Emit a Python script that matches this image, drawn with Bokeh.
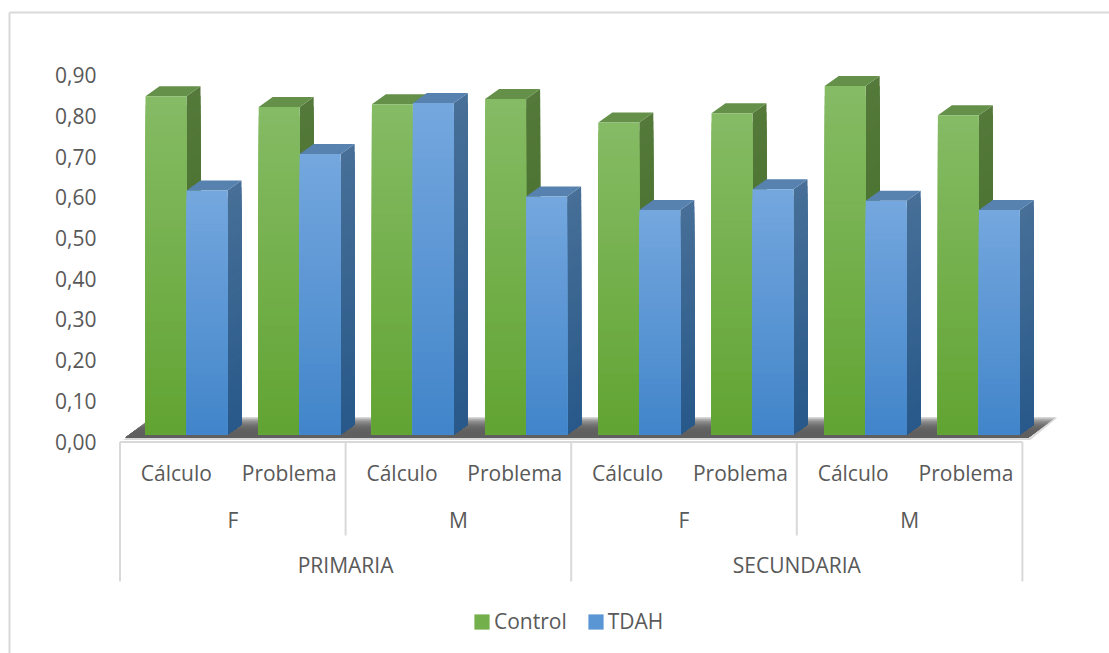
from bokeh.embed import file_html
from bokeh.resources import INLINE
from bokeh.plotting import figure
from bokeh.models import (ColumnDataSource, FixedTicker, Legend, LegendItem,
                          LinearAxis, Range1d, CustomJSTickFormatter)
from bokeh.core.properties import value

# ---- data ----
stages = ["PRIMARIA", "SECUNDARIA"]
genders = ["F", "M", "F", "M"]
tasks = ["Cálculo", "Problema"] * 4
control = [0.832, 0.805, 0.812, 0.825, 0.767, 0.79, 0.857, 0.785]
tdah = [0.60, 0.69, 0.815, 0.585, 0.552, 0.603, 0.575, 0.552]
y_ticks = [0.0, 0.1, 0.2, 0.3, 0.4, 0.5, 0.6, 0.7, 0.8, 0.9]

# ---- canvas and scales ----
W, H = 1109, 653
CAT_PX = 112.8          # pixels per category
VAL_PX = 406.7          # pixels per unit of value
LEFT_PX = 119.5         # canvas x of the first category's left edge
BASE_PX = 434           # canvas y of the bars' front base
AXIS_BASE_PX = 441      # canvas y of the 0,00 tick label

TEXT = "#595959"
RULE = "#D9D9D9"
FONT = value("Open Sans")
LABEL_SIZE = "21px"


def xpx(px):
    return (px - LEFT_PX) / CAT_PX


def ypx(px):
    return (BASE_PX - px) / VAL_PX


p = figure(width=W, height=H, output_backend="svg", toolbar_location=None,
           x_range=Range1d(xpx(0), xpx(W)), y_range=Range1d(ypx(H), ypx(0)),
           min_border=0, x_axis_type=None, y_axis_type=None,
           background_fill_color="white", border_fill_color="white")
p.grid.visible = False
p.outline_line_color = None

# value axis sits slightly below the bars' plane, as in a 3D projection
p.extra_y_ranges["value_axis"] = Range1d((AXIS_BASE_PX - H) / VAL_PX, AXIS_BASE_PX / VAL_PX)
axis = LinearAxis(y_range_name="value_axis", ticker=FixedTicker(ticks=y_ticks),
                  fixed_location=xpx(105),
                  axis_line_color=None, major_tick_line_color=None, minor_tick_line_color=None,
                  major_label_text_font="Open Sans", major_label_text_font_size=LABEL_SIZE,
                  major_label_text_color=TEXT, major_label_standoff=3,
                  formatter=CustomJSTickFormatter(code="return tick.toFixed(2).replace('.', ',')"))
p.add_layout(axis, "left")

# chart frame: only its top and left edges fall inside the page
p.multi_line([[xpx(9), xpx(9)], [xpx(9), xpx(W)]],
             [[ypx(H), ypx(12)], [ypx(12), ypx(12)]],
             line_color=RULE, line_width=2)


def mix(a, b, t):
    ca = [int(a[i:i + 2], 16) for i in (1, 3, 5)]
    cb = [int(b[i:i + 2], 16) for i in (1, 3, 5)]
    return "#%02x%02x%02x" % tuple(round(x + (y - x) * t) for x, y in zip(ca, cb))


# ---- floor ----
FLOOR_STEPS = 12
fx0, fx1 = xpx(125), xpx(1028)
fdx, fdy = 27 / CAT_PX, 20 / VAL_PX
fy0 = ypx(437)
p.patches(
    [[fx0 - 2 / CAT_PX, fx1 + 2 / CAT_PX, fx1 + 2 / CAT_PX + fdx, fx0 - 2 / CAT_PX + fdx]],
    [[ypx(439.5), ypx(439.5), fy0 + fdy, fy0 + fdy]],
    fill_color="#DADADA", line_color=None)
floor_x, floor_y, floor_c = [], [], []
for k in range(FLOOR_STEPS):
    t = 1 - k / FLOOR_STEPS
    floor_x.append([fx0, fx1, fx1 + fdx * t, fx0 + fdx * t])
    floor_y.append([fy0, fy0, fy0 + fdy * t, fy0 + fdy * t])
    floor_c.append(mix("#5F5F5F", "#C4C4C4", (t ** 4)))
p.patches(floor_x, floor_y, fill_color=floor_c, line_color=None)

# ---- 3D bars ----
BAR = 41 / CAT_PX
DX, DY = 14 / CAT_PX, 10 / VAL_PX
START = xpx(145)
STEP = 113.2 / CAT_PX
STRIPS = 36

series = [
    dict(values=control, offset=0.0, front=("#85BB64", "#62A433"), side=("#54793A", "#3F6B24"), top="#64904A"),
    dict(values=tdah, offset=BAR, front=("#74A7DE", "#4285CA"), side=("#476F97", "#28598A"), top="#5781AE"),
]
legend_names = ["Control", "TDAH"]

# bars are painted left to right so nearer faces cover the sides behind them
for i in range(len(tasks)):
    for s in series:
        v = s["values"][i]
        x0 = START + STEP * i + s["offset"]
        x1 = x0 + BAR
        # side face
        sx, sy, sc = [], [], []
        for k in range(STRIPS):
            h = v * (1 - k / STRIPS)
            sx.append([x1, x1 + DX, x1 + DX, x1])
            sy.append([0, DY, h + DY, h])
            sc.append(mix(s["side"][0], s["side"][1], k / (STRIPS - 1)))
        p.patches(sx, sy, fill_color=sc, line_color=None)
        # top face
        p.patches([[x0, x1, x1 + DX, x0 + DX]], [[v, v, v + DY, v + DY]],
                  fill_color=s["top"], line_color=None)
        # front face
        src = ColumnDataSource(dict(
            left=[x0] * STRIPS, right=[x1] * STRIPS,
            top=[v * (1 - k / STRIPS) for k in range(STRIPS)], bottom=[0] * STRIPS,
            color=[mix(s["front"][0], s["front"][1], k / (STRIPS - 1)) for k in range(STRIPS)]))
        r = p.quad(left="left", right="right", top="top", bottom="bottom",
                   fill_color="color", line_color=None, source=src)
        if i == 0:
            s["renderer"] = r

# ---- multi-level category axis ----
TASK_Y, GENDER_Y, STAGE_Y = ypx(472.5), ypx(519), ypx(564.5)
LINE_TOP = ypx(441.5)
rule_x = [[0, len(tasks)]]
rule_y = [[LINE_TOP, LINE_TOP]]
for i in range(0, len(tasks) + 1, 2):
    bottom = ypx(581) if i % 4 == 0 else ypx(535)
    rule_x.append([i, i])
    rule_y.append([LINE_TOP, bottom])
p.multi_line(rule_x, rule_y, line_color=RULE, line_width=2)

for xs, ys, labels in (
    ([i + 0.5 for i in range(len(tasks))], [TASK_Y] * len(tasks), tasks),
    ([2 * i + 1 for i in range(len(genders))], [GENDER_Y] * len(genders), genders),
    ([4 * i + 2 for i in range(len(stages))], [STAGE_Y] * len(stages), stages),
):
    p.text(x=xs, y=ys, text=labels, text_font=FONT, text_font_size=LABEL_SIZE,
           text_color=TEXT, text_align="center", text_baseline="middle")

# ---- legend ----
legend = Legend(
    items=[LegendItem(label=n, renderers=[s["renderer"]], index=STRIPS // 2)
           for n, s in zip(legend_names, series)],
    orientation="horizontal", location=(472, 18), background_fill_alpha=0,
    border_line_color=None, label_text_font="Open Sans", label_text_font_size=LABEL_SIZE,
    label_text_color=TEXT, glyph_width=19, glyph_height=19, spacing=19, label_standoff=3,
    padding=6, margin=0)
p.add_layout(legend, "center")

open("out.html", "w").write(file_html(p, INLINE))
